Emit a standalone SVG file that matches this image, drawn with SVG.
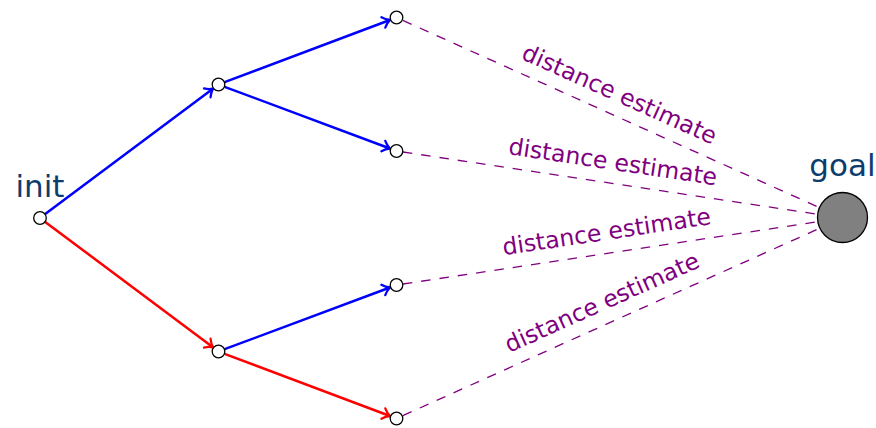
<svg xmlns="http://www.w3.org/2000/svg" width="876" height="428" viewBox="0 0 876 428">
<style>
.node{fill:#fff;stroke:#000;stroke-width:1.3}
.goal{fill:#808080;stroke:#000;stroke-width:1.3}
.blue{stroke:#0000ff;stroke-width:2.5;fill:none}
.red{stroke:#ff0000;stroke-width:2.5;fill:none}
.est{stroke:#800080;stroke-width:1.3;stroke-dasharray:9.5 9;fill:none}
.name{font-family:"DejaVu Sans",sans-serif;font-size:31px;fill:#0d3c6e;text-anchor:middle}
.lbl{font-family:"DejaVu Sans",sans-serif;font-size:23.5px;fill:#800080;text-anchor:middle}
</style>
<defs>
<marker id="ab" viewBox="-9 -8 11 16" refX="0" refY="0" markerWidth="11" markerHeight="16" markerUnits="userSpaceOnUse" orient="auto">
<path d="M-7,-5.5 C-4,-2 -1,-0.5 0,0 C-1,0.5 -4,2 -7,5.5" fill="none" stroke="#0000ff" stroke-width="2.3" stroke-linecap="round"/>
</marker>
<marker id="ar" viewBox="-9 -8 11 16" refX="0" refY="0" markerWidth="11" markerHeight="16" markerUnits="userSpaceOnUse" orient="auto">
<path d="M-7,-5.5 C-4,-2 -1,-0.5 0,0 C-1,0.5 -4,2 -7,5.5" fill="none" stroke="#ff0000" stroke-width="2.3" stroke-linecap="round"/>
</marker>
</defs>
<g id="connectors">
<path class="blue" d="M45.2,214.1 L212.9,88.7" marker-end="url(#ab)"/>
<path class="red" d="M45.2,221.9 L212.9,347.3" marker-end="url(#ar)"/>
<path class="blue" d="M224.6,82.2 L389.9,20.0" marker-end="url(#ab)"/>
<path class="blue" d="M224.6,86.8 L389.9,148.5" marker-end="url(#ab)"/>
<path class="blue" d="M224.6,349.2 L389.9,287.5" marker-end="url(#ab)"/>
<path class="red" d="M224.6,353.8 L389.9,416.0" marker-end="url(#ar)"/>
<path class="est" d="M402.9,20.4 L818.8,207.3"/>
<path class="est" d="M402.9,152.0 L816.8,214.1"/>
<path class="est" d="M402.9,284.0 L816.8,221.9"/>
<path class="est" d="M402.9,415.6 L818.8,228.7"/>
<g transform="translate(610.8,113.9) rotate(24.21)"><text class="lbl" x="0" y="-13.5">distance estimate</text></g>
<g transform="translate(609.8,183.0) rotate(8.54)"><text class="lbl" x="0" y="-13.5">distance estimate</text></g>
<g transform="translate(609.8,253.0) rotate(-8.54)"><text class="lbl" x="0" y="-13.5">distance estimate</text></g>
<g transform="translate(610.8,322.1) rotate(-24.21)"><text class="lbl" x="0" y="-13.5">distance estimate</text></g>
</g>
<g id="init"><circle class="node" cx="40" cy="218" r="6.3"/><text class="name" x="40" y="197">init</text></g>
<g id="a1"><circle class="node" cx="218.5" cy="84.5" r="6.3"/></g>
<g id="a2"><circle class="node" cx="218.5" cy="351.5" r="6.3"/></g>
<g id="l1"><circle class="node" cx="396.5" cy="17.5" r="6.3"/></g>
<g id="l2"><circle class="node" cx="396.5" cy="151" r="6.3"/></g>
<g id="l3"><circle class="node" cx="396.5" cy="285" r="6.3"/></g>
<g id="l4"><circle class="node" cx="396.5" cy="418.5" r="6.3"/></g>
<g id="goal"><circle class="goal" cx="842.5" cy="217.5" r="25"/><text class="name" x="842.5" y="176">goal</text></g>
</svg>
